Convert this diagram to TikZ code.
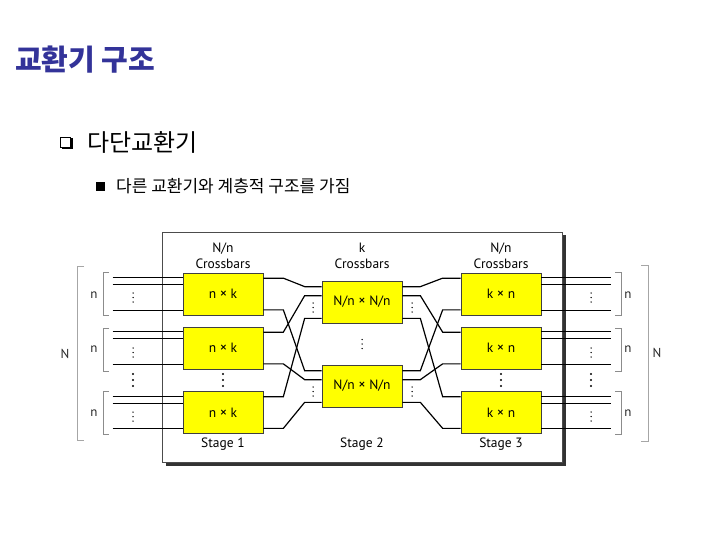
\documentclass[tikz,border=0pt]{standalone}
\usepackage{fontspec}
\setmainfont{PT Sans}
\newfontfamily\kr{Noto Sans CJK KR}
\definecolor{titleblue}{RGB}{51,51,153}
\definecolor{xbar}{RGB}{255,255,0}
\newcommand\bigtimes{{\fontsize{14.5}{15}\selectfont×}}
\tikzset{
  xbox/.style={draw=black!75, line width=0.7pt, fill=xbar, minimum width=80pt,
    minimum height=42pt, inner sep=0pt, font=\fontsize{13.5}{15}\selectfont},
  wire/.style={line width=1.2pt, black},
  brk/.style={draw=black!45, line width=0.8pt},
  lbl/.style={font=\fontsize{13.5}{16}\selectfont, align=center, inner sep=0pt},
  nlbl/.style={font=\fontsize{13}{15}\selectfont, inner sep=0pt, text=black!85},
  sdots/.pic={\fill (0,-4.5) circle (0.75pt); \fill (0,0) circle (0.75pt); \fill (0,4.5) circle (0.75pt);},
  bdots/.pic={\fill (0,-6) circle (1.2pt); \fill (0,0) circle (1.2pt); \fill (0,6) circle (1.2pt);}
}
\begin{document}
\begin{tikzpicture}[x=1pt,y=-1pt]
\useasboundingbox (0,0) rectangle (720,540);
\fill[white] (0,0) rectangle (720,540);

% title and bullets
\node[anchor=west, text=titleblue, font=\kr\bfseries\fontsize{29}{32}\selectfont, inner sep=0pt] (title) at (15,60) {교환기 구조};
\draw[line width=0.7pt] (60.5,137) rectangle (70.5,147);
\draw[line width=1.8pt] (62,148.5) -- (72,148.5) -- (72,138.5);
\node[anchor=west, font=\kr\fontsize{24}{28}\selectfont, inner sep=0pt] (sub) at (87,142.5) {다단교환기};
\fill (95.5,182) rectangle (104.5,191);
\node[anchor=west, font=\kr\fontsize{17}{20}\selectfont, inner sep=0pt] (subsub) at (116,186.5) {다른 교환기와 계층적 구조를 가짐};

% outer frame with shadow
\fill[black!80] (165.5,235) rectangle (565.5,465.5);
\filldraw[fill=white, draw=black!70, line width=0.6pt] (162.5,232.5) rectangle (562.5,462.5);

% crossbars
\node[xbox] (s1a) at (223,294) {n \bigtimes{} k};
\node[xbox] (s1b) at (223,348) {n \bigtimes{} k};
\node[xbox] (s1c) at (223,412.5) {n \bigtimes{} k};
\node[xbox] (s2a) at (362,302) {N/n \bigtimes{} N/n};
\node[xbox] (s2b) at (362,386) {N/n \bigtimes{} N/n};
\node[xbox] (s3a) at (501,294) {k \bigtimes{} n};
\node[xbox] (s3b) at (501,348) {k \bigtimes{} n};
\node[xbox] (s3c) at (501,412.5) {k \bigtimes{} n};

% headings
\node[lbl] (h1) at (223,256) {N/n\\Crossbars};
\node[lbl] (h2) at (362,256) {k\\Crossbars};
\node[lbl] (h3) at (501,256) {N/n\\Crossbars};
\node[lbl] (st1) at (223,444) {Stage 1};
\node[lbl] (st2) at (362,444) {Stage 2};
\node[lbl] (st3) at (501,444) {Stage 3};

% ports
\foreach \b in {s1a,s1b,s1c} {
  \coordinate (\b-o1) at ([yshift=-5.5pt]\b.north east);
  \coordinate (\b-o2) at ([yshift=5.5pt]\b.south east);
  \coordinate (\b-i1) at ([yshift=-5pt]\b.north west);
  \coordinate (\b-i2) at ([yshift=-12pt]\b.north west);
  \coordinate (\b-i3) at ([yshift=5pt]\b.south west);
}
\foreach \b in {s3a,s3b,s3c} {
  \coordinate (\b-i1) at ([yshift=-5.5pt]\b.north west);
  \coordinate (\b-i2) at ([yshift=5.5pt]\b.south west);
  \coordinate (\b-o1) at ([yshift=-5pt]\b.north east);
  \coordinate (\b-o2) at ([yshift=-12pt]\b.north east);
  \coordinate (\b-o3) at ([yshift=5pt]\b.south east);
}
\foreach \b in {s2a,s2b} {
  \coordinate (\b-i1) at ([yshift=-6pt]\b.north west);
  \coordinate (\b-i2) at ([yshift=-15pt]\b.north west);
  \coordinate (\b-i3) at ([yshift=5pt]\b.south west);
  \coordinate (\b-o1) at ([yshift=-6pt]\b.north east);
  \coordinate (\b-o2) at ([yshift=-15pt]\b.north east);
  \coordinate (\b-o3) at ([yshift=5pt]\b.south east);
}

% external inputs / outputs
\foreach \b in {s1a,s1b,s1c} \foreach \p in {i1,i2,i3}
  \draw[wire] ([xshift=-70pt]\b-\p) -- (\b-\p);
\foreach \b in {s3a,s3b,s3c} \foreach \p in {o1,o2,o3}
  \draw[wire] (\b-\p) -- ([xshift=70pt]\b-\p);

% interstage wiring
\foreach \src/\dst in {s1a-o1/s2a-i1, s1a-o2/s2b-i1, s1b-o1/s2a-i2, s1b-o2/s2b-i2, s1c-o1/s2a-i3, s1c-o2/s2b-i3}
  \draw[wire] (\src) -- ++(20,0) -- ([xshift=-17pt]\dst) -- (\dst);
\foreach \src/\dst in {s2a-o1/s3a-i1, s2a-o2/s3b-i1, s2a-o3/s3c-i1, s2b-o1/s3a-i2, s2b-o2/s3b-i2, s2b-o3/s3c-i2}
  \draw[wire] (\src) -- ++(18,0) -- ([xshift=-18pt]\dst) -- (\dst);

% dots
\foreach \y in {297.5,352.5,416.5} {
  \pic at (133,\y) {sdots};
  \pic at (591,\y) {sdots};
}
\pic at (133,380) {bdots};
\pic at (591,380) {bdots};
\pic at (223,380) {bdots};
\pic at (501,380) {bdots};
\pic at (362,344) {sdots};
\foreach \y in {307.5,391.5} {
  \pic at (313,\y) {sdots};
  \pic at (412,\y) {sdots};
}

% brackets
\foreach \t/\bt in {272/315, 328/371, 391/434} {
  \draw[brk] (109,\t) -- (103,\t) -- (103,\bt) -- (109,\bt);
  \draw[brk] (615,\t) -- (621,\t) -- (621,\bt) -- (615,\bt);
}
\draw[brk, draw=black!35] (84,266) -- (77,266) -- (77,440) -- (84,440);
\draw[brk, draw=black!35] (641,265) -- (648,265) -- (648,441) -- (641,441);
\node[nlbl] (nl1) at (94,295) {n};
\node[nlbl] (nl2) at (94,349) {n};
\node[nlbl] (nl3) at (94,413) {n};
\node[nlbl] (nr1) at (628,295) {n};
\node[nlbl] (nr2) at (628,349) {n};
\node[nlbl] (nr3) at (628,413) {n};
\node[nlbl] (NL) at (65,354) {N};
\node[nlbl] (NR) at (657,353) {N};
\end{tikzpicture}
\end{document}
